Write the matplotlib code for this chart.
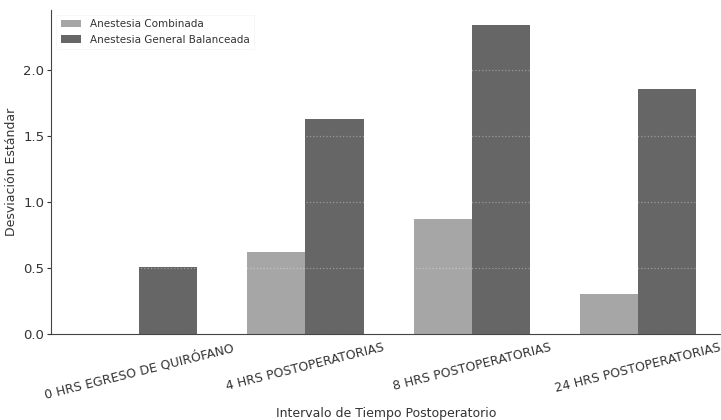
import matplotlib
matplotlib.use("Agg")
import matplotlib.pyplot as plt
import numpy as np

intervalos = ["0 HRS EGRESO DE QUIRÓFANO", "4 HRS POSTOPERATORIAS",
              "8 HRS POSTOPERATORIAS", "24 HRS POSTOPERATORIAS"]
combinada = [0.0, 0.62, 0.87, 0.30]
general = [0.51, 1.63, 2.34, 1.86]

plt.rcParams["font.family"] = "DejaVu Sans"
plt.rcParams["text.color"] = "#333333"
plt.rcParams["axes.labelcolor"] = "#333333"
plt.rcParams["xtick.color"] = "#333333"
plt.rcParams["ytick.color"] = "#333333"

fig = plt.figure(figsize=(7.21, 4.2), dpi=100)
ax = fig.add_axes([0.071, 0.205, 0.929, 0.771])

x = np.arange(len(intervalos))
w = 0.35
ax.bar(x - w / 2, combinada, w, color="#a6a6a6", label="Anestesia Combinada")
ax.bar(x + w / 2, general, w, color="#666666", label="Anestesia General Balanceada")

# grid over the bars, white so it only shows on the dark ones
ax.set_axisbelow(False)
ax.yaxis.grid(True, linestyle=":", color="white", alpha=0.35, linewidth=0.9)
ax.xaxis.grid(False)

ax.set_xlim(-0.53, 3.5)
ax.set_xticks(x)
ax.set_xticklabels(intervalos, rotation=14, ha="center", fontsize=9)
ax.set_yticks([0.0, 0.5, 1.0, 1.5, 2.0])
ax.tick_params(axis="y", labelsize=9.5, length=3, pad=2)
ax.tick_params(axis="x", length=0, pad=5)

ax.spines["top"].set_visible(False)
ax.spines["right"].set_visible(False)
ax.spines["left"].set_color("#444444")
ax.spines["bottom"].set_color("#444444")

ax.set_xlabel("Intervalo de Tiempo Postoperatorio", fontsize=9, labelpad=4)
ax.set_ylabel("Desviación Estándar", fontsize=9, labelpad=4)

leg = ax.legend(loc="upper left", fontsize=7.5, frameon=True, fancybox=False)
leg.get_frame().set_edgecolor("#f2f2f2")
leg.get_frame().set_linewidth(0.5)

fig.savefig("out.png", dpi=100)
